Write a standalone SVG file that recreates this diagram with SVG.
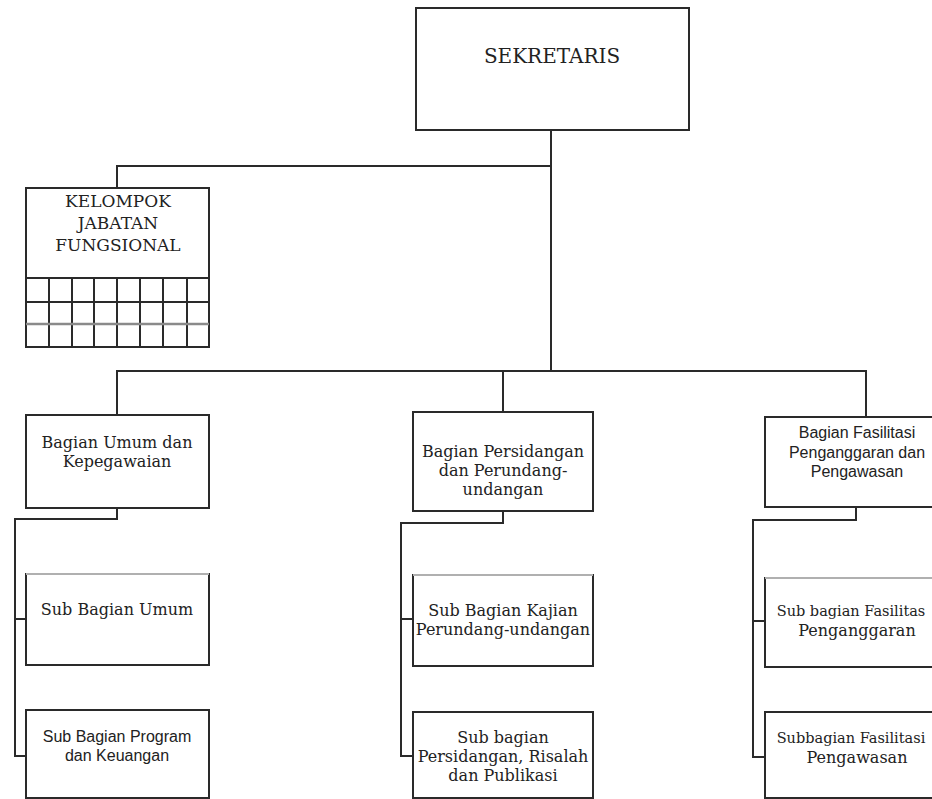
<svg xmlns="http://www.w3.org/2000/svg" width="932" height="799" viewBox="0 0 932 799">
<style>
.box{fill:#fff;stroke:#2a2a2a;stroke-width:2}
.ln{fill:none;stroke:#2a2a2a;stroke-width:2}
.lt{stroke:#b0b0b0;stroke-width:2}
.serif{font-family:"DejaVu Serif","Liberation Serif",serif;font-size:16px;fill:#222;text-anchor:middle}
.sans{font-family:"Liberation Sans",Arial,sans-serif;font-size:16px;fill:#222;text-anchor:middle}
</style>
<rect width="932" height="799" fill="#fff"/>
<g id="connectors" class="ln">
<path d="M551 130 V371"/>
<path d="M117 188 V166 H551"/>
<path d="M117 415 V371 H866 V417"/>
<path d="M503 371 V412"/>
<path d="M117 508 V519 H15 V756 H26 M15 619 H26"/>
<path d="M503 511 V523 H401 V756 H413 M401 619 H413"/>
<path d="M856 507 V520 H753 V757 H765 M753 621 H765"/>
</g>
<g id="sekretaris">
<rect class="box" x="416" y="8" width="273" height="122"/>
<text class="serif" x="552" y="63" style="font-size:20px">SEKRETARIS</text>
</g>
<g id="kelompok">
<rect class="box" x="26" y="188" width="183" height="159"/>
<text class="serif" style="font-size:17px" x="118" y="207">KELOMPOK</text>
<text class="serif" style="font-size:17px" x="118" y="229">JABATAN</text>
<text class="serif" style="font-size:17px" x="118" y="251">FUNGSIONAL</text>
<path class="ln" d="M26 278 H209 M26 302 H209 M49 278 V347 M72 278 V347 M94 278 V347 M117 278 V347 M140 278 V347 M163 278 V347 M187 278 V347"/>
<path d="M26 324 H209" stroke="#8a8a8a" stroke-width="2.5"/>
</g>
<g id="bagian-umum">
<rect class="box" x="26" y="415" width="183" height="93"/>
<text class="serif" x="117" y="448">Bagian Umum dan</text>
<text class="serif" x="117" y="467">Kepegawaian</text>
</g>
<g id="bagian-persidangan">
<rect class="box" x="413" y="412" width="180" height="99"/>
<text class="serif" x="503" y="457">Bagian Persidangan</text>
<text class="serif" x="503" y="476">dan Perundang-</text>
<text class="serif" x="503" y="495">undangan</text>
</g>
<g id="bagian-fasilitasi">
<rect class="box" x="765" y="417" width="185" height="90"/>
<text class="sans" x="857" y="438">Bagian Fasilitasi</text>
<text class="sans" x="857" y="458">Penganggaran dan</text>
<text class="sans" x="857" y="477">Pengawasan</text>
</g>
<g id="sub-umum">
<rect class="box" x="26" y="574" width="183" height="91"/>
<path class="lt" d="M26 574 H209"/>
<text class="serif" x="117" y="615">Sub Bagian Umum</text>
</g>
<g id="sub-program">
<rect class="box" x="26" y="710" width="183" height="88"/>
<text class="sans" x="117" y="742">Sub Bagian Program</text>
<text class="sans" x="117" y="761">dan Keuangan</text>
</g>
<g id="sub-kajian">
<rect class="box" x="413" y="575" width="180" height="91"/>
<path class="lt" d="M413 575 H593"/>
<text class="serif" x="503" y="616">Sub Bagian Kajian</text>
<text class="serif" x="503" y="635">Perundang-undangan</text>
</g>
<g id="sub-persidangan">
<rect class="box" x="413" y="712" width="180" height="86"/>
<text class="serif" x="503" y="743">Sub bagian</text>
<text class="serif" x="503" y="762">Persidangan, Risalah</text>
<text class="serif" x="503" y="781">dan Publikasi</text>
</g>
<g id="sub-penganggaran">
<rect class="box" x="765" y="578" width="185" height="89"/>
<path class="lt" d="M765 578 H932"/>
<text class="serif" x="851" y="616" style="font-size:14.5px">Sub bagian Fasilitas</text>
<text class="serif" x="857" y="636">Penganggaran</text>
</g>
<g id="sub-pengawasan">
<rect class="box" x="765" y="712" width="185" height="86"/>
<text class="serif" x="851" y="743" style="font-size:14.5px">Subbagian Fasilitasi</text>
<text class="serif" x="857" y="763">Pengawasan</text>
</g>
</svg>
